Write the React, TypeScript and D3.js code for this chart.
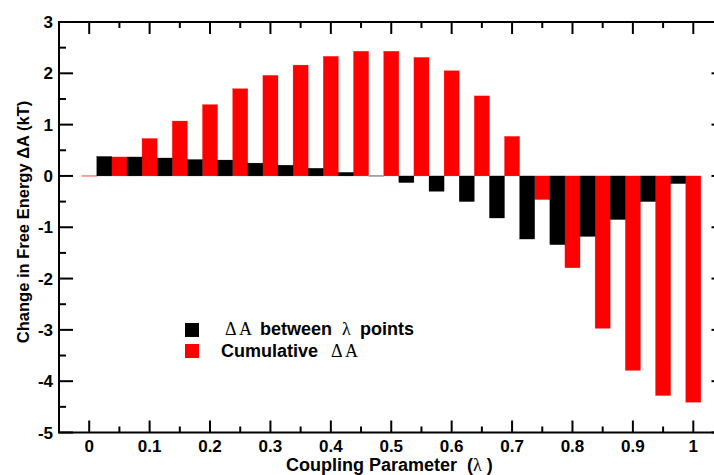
import React from 'react';
import * as d3 from 'd3';

const lambdaPoints = [0, 0.05, 0.1, 0.15, 0.2, 0.25, 0.3, 0.35, 0.4, 0.45, 0.5, 0.55, 0.6, 0.65, 0.7, 0.75, 0.8, 0.85, 0.9, 0.95, 1.0];
const cumulativeDA = [0, 0.37, 0.73, 1.07, 1.39, 1.70, 1.96, 2.16, 2.33, 2.43, 2.43, 2.31, 2.05, 1.56, 0.77, -0.46, -1.79, -2.97, -3.79, -4.28, -4.41];
const midPoints = [0.025, 0.075, 0.125, 0.175, 0.225, 0.275, 0.325, 0.375, 0.425, 0.475, 0.525, 0.575, 0.625, 0.675, 0.725, 0.775, 0.825, 0.875, 0.925, 0.975];
const betweenDA = [0.38, 0.37, 0.35, 0.32, 0.31, 0.25, 0.21, 0.15, 0.07, 0.0, -0.13, -0.30, -0.50, -0.82, -1.23, -1.34, -1.18, -0.85, -0.50, -0.15];
const xTickValues = [0, 0.1, 0.2, 0.3, 0.4, 0.5, 0.6, 0.7, 0.8, 0.9, 1.0];
const xTickLabels = ['0', '0.1', '0.2', '0.3', '0.4', '0.5', '0.6', '0.7', '0.8', '0.9', '1'];
const xMinorValues = [0.05, 0.15, 0.25, 0.35, 0.45, 0.55, 0.65, 0.75, 0.85, 0.95];
const yTickValues = [-5, -4, -3, -2, -1, 0, 1, 2, 3];
const yTickLabels = ['-5', '-4', '-3', '-2', '-1', '0', '1', '2', '3'];
const yMinorValues = [-4.5, -3.5, -2.5, -1.5, -0.5, 0.5, 1.5, 2.5];

const W = 714;
const H = 475;
const L = 59, R = 723.5, T = 22, B = 432.5;
const MAJ = 12, MIN = 6;
const SANS = '"Liberation Sans", Arial, Helvetica, sans-serif';
const SERIF = '"Liberation Serif", "DejaVu Serif", serif';

export default function App() {
  const x = d3.scaleLinear().domain([-0.05, 1.05]).range([L, R]);
  const y = d3.scaleLinear().domain([-5, 3]).range([B, T]);
  const bw = x(0.025) - x(0);
  const y0 = y(0);

  const bar = (cx: number, v: number, color: string, flat: string, key: string) => {
    const top = Math.min(y(v), y0);
    const h = Math.abs(y(v) - y0);
    if (h < 1) {
      return <rect key={key} x={x(cx) - bw / 2} y={y0 - 0.75} width={bw} height={1.5} fill={flat} />;
    }
    return (
      <rect key={key} x={x(cx) - bw / 2} y={top} width={bw} height={h}
        fill={color} stroke={color} strokeWidth={0.4} strokeOpacity={0.6} />
    );
  };

  return (
    <svg width={W} height={H} style={{ position: 'absolute', left: 0, top: 0, background: '#fff' }}
      fontFamily={SANS}>
      <rect x={0} y={0} width={W} height={H} fill="#fff" />
      {lambdaPoints.map((l, i) => bar(l, cumulativeDA[i], '#ff0000', '#ff8080', 'r' + i))}
      {midPoints.map((l, i) => bar(l, betweenDA[i], '#000000', '#909090', 'b' + i))}

      {/* frame */}
      <rect x={L} y={T} width={R - L} height={B - T} fill="none" stroke="#000" strokeWidth={2} />

      {/* x ticks bottom & top */}
      {xTickValues.map((v, i) => (
        <g key={'xt' + i}>
          <line x1={x(v)} x2={x(v)} y1={B} y2={B - MAJ} stroke="#000" strokeWidth={2} />
          <line x1={x(v)} x2={x(v)} y1={T} y2={T + MAJ} stroke="#000" strokeWidth={2} />
          <text x={x(v)} y={452} textAnchor="middle" fontSize={17} fontWeight="bold">{xTickLabels[i]}</text>
        </g>
      ))}
      {xMinorValues.map((v, i) => (
        <g key={'xm' + i}>
          <line x1={x(v)} x2={x(v)} y1={B} y2={B - MIN} stroke="#000" strokeWidth={2} />
          <line x1={x(v)} x2={x(v)} y1={T} y2={T + MIN} stroke="#000" strokeWidth={2} />
        </g>
      ))}

      {/* y ticks left & right */}
      {yTickValues.map((v, i) => (
        <g key={'yt' + i}>
          <line x1={L} x2={L + MAJ + 2} y1={y(v)} y2={y(v)} stroke="#000" strokeWidth={2} />
          <line x1={R} x2={R - MAJ} y1={y(v)} y2={y(v)} stroke="#000" strokeWidth={2} />
          <text x={53} y={y(v)} dy="0.36em" textAnchor="end" fontSize={17} fontWeight="bold">{yTickLabels[i]}</text>
        </g>
      ))}
      {yMinorValues.map((v, i) => (
        <g key={'ym' + i}>
          <line x1={L} x2={L + MIN + 1} y1={y(v)} y2={y(v)} stroke="#000" strokeWidth={2} />
          <line x1={R} x2={R - MIN} y1={y(v)} y2={y(v)} stroke="#000" strokeWidth={2} />
        </g>
      ))}

      {/* axis labels */}
      <text x={286} y={471} fontSize={18} fontWeight="bold">Coupling Parameter</text>
      <text x={467} y={471} fontSize={18} fontWeight="bold">
        (<tspan fontFamily={SERIF} fontWeight="normal">λ</tspan>{'\u00A0'})
      </text>
      <text transform={`translate(29,222) rotate(-90)`} textAnchor="middle" fontSize={16.5} fontWeight="bold">
        Change in Free Energy ΔA (kT)
      </text>

      {/* legend */}
      <rect x={185} y={323} width={14} height={14} fill="#000" />
      <rect x={185} y={344} width={14} height={14} fill="#ff0000" />
      <text x={225} y={335} fontSize={18} fontFamily={SERIF}>Δ Α</text>
      <text x={260} y={335} fontSize={18} fontWeight="bold">between</text>
      <text x={342} y={335} fontSize={18} fontFamily={SERIF}>λ</text>
      <text x={360} y={335} fontSize={18} fontWeight="bold">points</text>
      <text x={221} y={357} fontSize={18} fontWeight="bold">Cumulative</text>
      <text x={331} y={357} fontSize={18} fontFamily={SERIF}>Δ Α</text>
    </svg>
  );
}
